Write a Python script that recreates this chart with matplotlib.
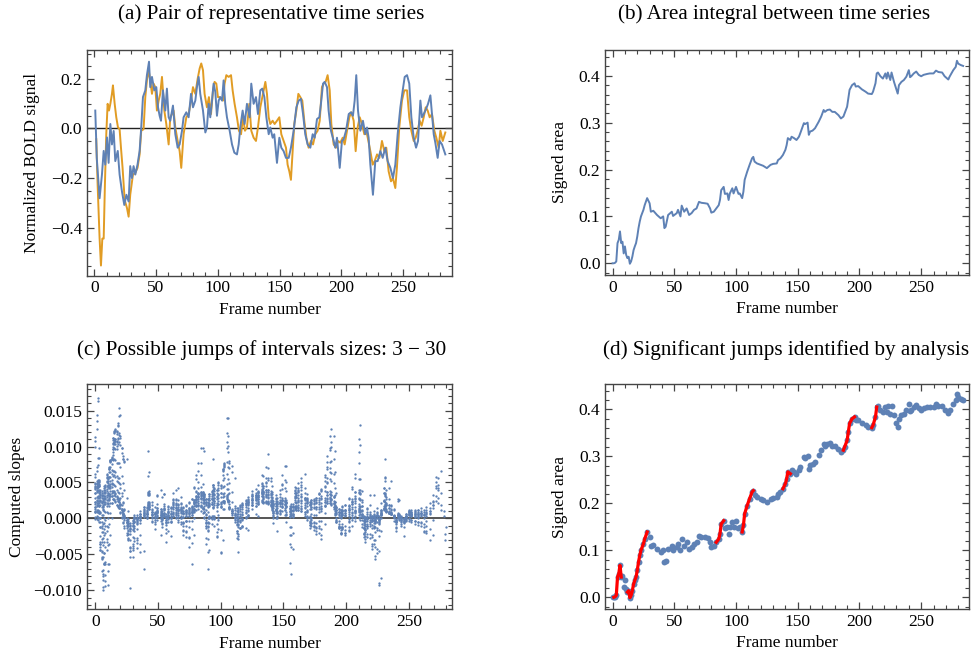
import numpy as np
import matplotlib
matplotlib.use("Agg")
import matplotlib.pyplot as plt
from matplotlib.ticker import MultipleLocator

plt.rcParams['font.family'] = ['Liberation Serif', 'DejaVu Serif']
plt.rcParams['font.size'] = 12.5

################# DATA #################
# (a) pair of representative time series
blue_f = [0.8, 2, 4.3, 6.2, 7.6, 8.9, 10.3, 11.6, 13, 14.3, 15.7, 17, 19, 20.5, 22.4, 24.3, 26, 27.8, 29.1, 30.5,
          31.8, 33.2, 35, 36.7, 38, 39.4, 41.3, 42.6, 44.3, 45.3, 46.7, 48.6, 50.2, 51.6, 52.9, 54, 55.6, 57.5, 58.8, 60.2,
          61.5, 63.7, 65.6, 67.5, 69.1, 71, 72.3, 74.5, 76.4, 78.3, 79.9, 81.8, 83.1, 84.5, 85.8, 88, 89.9, 91.2, 92.6, 93.9,
          95.3, 96.6, 98, 99.3, 100.7, 102, 103.4, 104.7, 106, 107.4, 109.6, 111.5, 113.4, 115.5, 116.9, 118.2, 120.1, 121.7, 123.6, 125.8,
          127.1, 129, 130.9, 132.5, 134.4, 136, 137.7, 139.3, 141.2, 142.5, 144.4, 145.7, 147.9, 149.8, 151.4, 153.3, 155.2, 157.4, 159.2, 161.4,
          163.6, 165.5, 167.3, 169, 170.8, 172.7, 174.9, 176.8, 178.4, 180.3, 182.2, 183.5, 185.2, 186.5, 188.4, 189.7, 191.6, 193.8, 195.1, 196.5,
          198.7, 200.5, 201.9, 203.8, 206, 207.8, 209.4, 210.8, 212.1, 213.5, 215.4, 217.5, 219.4, 220.8, 222.1, 223.5, 225.6, 227.5, 229.4, 231.6,
          233.5, 235.6, 237.5, 239.7, 241.8, 243.7, 245.6, 247.8, 249.7, 251.3, 253.2, 255, 256.7, 258.6, 260.5, 262.1, 264, 265.3, 266.7, 268.6,
          270.2, 272.1, 273.4, 274.8, 276.1, 278, 279.6, 281.5, 284.2]
blue_v = [0.072, -0.118, -0.28, -0.185, -0.09, -0.145, -0.036, -0.138, 0.018, -0.064, -0.01, -0.131, -0.09, -0.185, -0.253, -0.307, -0.266, -0.293, -0.151, -0.199,
          -0.151, -0.185, -0.145, -0.09, 0.004, 0.126, 0.153, 0.214, 0.268, 0.166, 0.207, 0.153, 0.166, 0.085, 0.051, 0.031, 0.153, 0.072, 0.16, 0.045,
          0.031, 0.092, -0.023, -0.077, -0.064, -0.009, 0.045, 0.065, 0.045, 0.139, 0.085, 0.112, 0.166, 0.207, 0.139, 0.072, -0.016, 0.004, 0.099, 0.045,
          0.112, 0.18, 0.146, 0.051, 0.112, 0.126, 0.112, 0.193, 0.099, 0.045, -0.009, -0.064, -0.097, -0.104, -0.064, 0.004, 0.072, 0.018, 0.099, 0.045,
          0.18, 0.099, 0.126, 0.058, 0.153, 0.16, 0.126, 0.045, -0.023, 0.004, -0.037, -0.023, -0.138, -0.037, -0.077, -0.091, -0.118, -0.118, -0.077, -0.009,
          0.085, 0.112, 0.119, 0.058, -0.023, -0.064, -0.077, -0.023, -0.037, 0.038, 0.045, 0.099, 0.18, 0.187, 0.166, 0.072, -0.009, -0.05, -0.077, -0.037,
          -0.158, -0.05, -0.043, -0.009, 0.058, 0.065, 0.051, 0.112, 0.214, 0.072, -0.009, 0.031, -0.023, 0.004, -0.037, -0.145, -0.266, -0.131, -0.131, -0.091,
          -0.118, -0.077, -0.131, -0.158, -0.199, -0.145, -0.023, 0.085, 0.153, 0.207, 0.214, 0.18, 0.045, -0.037, -0.077, -0.05, 0.112, 0.045, 0.058, 0.078,
          0.099, 0.133, 0.058, -0.023, -0.057, -0.118, -0.05, -0.064, -0.104]

orange_f = [1.6, 2.7, 4.3, 5.4, 6.5, 7.6, 8.6, 9.7, 10.8, 11.9, 13, 14.3, 15.1, 16.5, 17.8, 19.2, 20.5, 21.6, 22.9, 24.6,
            26.5, 27.8, 29.1, 31.3, 33.2, 35, 36.7, 38, 39.9, 41.3, 42.6, 44, 45.3, 46.7, 48, 49.4, 50.7, 52.1, 53.4, 54.8,
            56.7, 58.3, 60.2, 61.5, 62.9, 64.2, 65.6, 67.5, 69.1, 70.4, 72.3, 74.5, 76.4, 78.3, 79.9, 81.8, 83.7, 85.3, 86.6, 88,
            89.3, 91.2, 92.8, 94.5, 96.1, 97.4, 98.8, 100.1, 101.5, 102.8, 104.2, 105.5, 106.9, 108.8, 110.7, 112, 113.6, 115.5, 117.1, 118.8,
            120.4, 122, 123.6, 125.5, 127.1, 129, 130.9, 132.5, 134.4, 136.6, 138.5, 139.8, 141.2, 142.5, 144.4, 146, 147.9, 149.8, 151.4, 153.3,
            155.2, 156.5, 157.9, 159.2, 160.6, 161.9, 163.6, 165.2, 166.8, 168.4, 170, 171.7, 173.5, 175.4, 177.1, 178.9, 180.8, 182.5, 184.3, 185.7,
            187.3, 188.9, 190.6, 191.9, 193.8, 195.7, 197.3, 199.2, 201.1, 202.7, 204.6, 206.5, 208.1, 210, 211.6, 213.2, 214.9, 216.7, 218.6, 220.2,
            221.9, 223.5, 225.4, 227, 228.9, 230.8, 232.9, 234.8, 236.4, 238.3, 240.2, 241.8, 243.7, 245, 246.9, 249.1, 251, 253.2, 255, 256.7,
            258.6, 260.2, 261.8, 263.4, 265, 266.7, 268.3, 269.9, 271.5, 273.4, 275.3, 276.9, 278.8, 280.2, 282.1, 284.2]
orange_v = [-0.043, -0.226, -0.442, -0.55, -0.442, -0.442, -0.226, -0.023, 0.099, 0.072, 0.099, 0.139, 0.173, 0.099, 0.045, 0.004, -0.003, -0.077, -0.158, -0.287,
            -0.32, -0.354, -0.266, -0.185, -0.178, -0.158, -0.104, -0.009, -0.003, 0.126, 0.193, 0.234, 0.193, 0.139, 0.18, 0.166, 0.072, 0.112, 0.139, 0.207,
            0.072, 0.018, -0.064, 0.045, 0.058, 0.072, 0.004, -0.05, -0.091, -0.158, -0.023, 0.045, 0.058, 0.112, 0.166, 0.139, 0.2, 0.241, 0.261, 0.234,
            0.139, 0.085, 0.126, 0.058, 0.153, 0.187, 0.18, 0.126, 0.126, 0.119, 0.112, 0.18, 0.214, 0.207, 0.214, 0.153, 0.099, 0.045, -0.009, -0.023,
            0.045, -0.009, 0.004, 0.099, -0.009, -0.037, -0.05, 0.004, 0.085, 0.139, 0.187, 0.139, 0.045, 0.018, 0.031, 0.018, 0.031, 0.045, -0.023, -0.05,
            -0.077, -0.145, -0.172, -0.206, -0.091, 0.018, 0.072, 0.139, 0.126, 0.112, 0.031, -0.037, -0.077, -0.05, -0.064, -0.023, -0.009, 0.031, 0.166, 0.18,
            0.187, 0.214, 0.153, 0.018, -0.064, -0.077, -0.05, -0.057, -0.037, -0.064, -0.009, 0.045, 0.065, 0.031, -0.091, 0.004, 0.045, 0.018, -0.023, -0.009,
            -0.05, -0.091, -0.145, -0.131, -0.104, -0.118, -0.05, -0.091, -0.077, -0.172, -0.212, -0.199, -0.239, -0.158, 0.004, 0.112, 0.153, 0.153, 0.045, -0.009,
            -0.05, -0.037, -0.009, 0.031, 0.011, 0.045, 0.085, 0.072, 0.045, 0.058, -0.009, -0.037, -0.077, -0.009, -0.05, -0.016]

# (b)/(d) signed area between the two series
area_f = [0, 1, 2, 3, 4, 5, 6, 7, 8, 9, 10, 11, 12, 13, 14, 15, 16, 17, 18, 19,
          20, 21, 22, 23, 25, 26, 28, 30, 31, 33, 36, 39, 41, 42, 43, 45, 48, 49, 52, 53,
          55, 56, 58, 60, 62, 64, 66, 68, 70, 72, 75, 77, 79, 80, 82, 84, 86, 87, 88, 90,
          91, 93, 94, 95, 97, 98, 100, 102, 103, 105, 106, 107, 109, 111, 113, 114, 115, 117, 120, 122,
          125, 128, 130, 133, 134, 136, 138, 140, 141, 142, 144, 145, 147, 149, 151, 152, 155, 156, 158, 159,
          160, 162, 164, 167, 169, 171, 172, 174, 176, 178, 180, 183, 185, 187, 188, 190, 191, 192, 194, 196,
          197, 199, 202, 205, 207, 210, 211, 213, 214, 215, 217, 219, 221, 222, 223, 225, 226, 228, 230, 231,
          232, 234, 236, 238, 240, 241, 242, 244, 246, 248, 250, 252, 255, 257, 260, 262, 264, 267, 269, 272,
          273, 276, 278, 279, 280, 282, 284]
area_v = [0.000, 0.000, 0.001, 0.004, 0.043, 0.050, 0.068, 0.043, 0.046, 0.021, 0.036, 0.018, 0.011, 0.014, -0.001, 0.004, 0.014, 0.028, 0.036, 0.043,
          0.057, 0.075, 0.089, 0.100, 0.114, 0.124, 0.139, 0.128, 0.110, 0.112, 0.103, 0.096, 0.100, 0.075, 0.078, 0.103, 0.110, 0.101, 0.107, 0.114,
          0.100, 0.123, 0.110, 0.117, 0.103, 0.107, 0.114, 0.117, 0.131, 0.129, 0.128, 0.127, 0.117, 0.108, 0.110, 0.117, 0.124, 0.135, 0.156, 0.163,
          0.148, 0.149, 0.135, 0.149, 0.160, 0.149, 0.163, 0.148, 0.149, 0.139, 0.153, 0.178, 0.195, 0.210, 0.224, 0.227, 0.217, 0.213, 0.210, 0.208,
          0.203, 0.210, 0.212, 0.213, 0.220, 0.224, 0.231, 0.242, 0.252, 0.267, 0.263, 0.270, 0.267, 0.263, 0.270, 0.277, 0.299, 0.297, 0.300, 0.274,
          0.281, 0.283, 0.288, 0.302, 0.313, 0.327, 0.323, 0.327, 0.328, 0.323, 0.323, 0.316, 0.309, 0.313, 0.320, 0.334, 0.352, 0.370, 0.380, 0.384,
          0.377, 0.378, 0.371, 0.366, 0.362, 0.361, 0.366, 0.384, 0.405, 0.407, 0.399, 0.394, 0.405, 0.394, 0.407, 0.391, 0.407, 0.387, 0.370, 0.362,
          0.380, 0.387, 0.391, 0.398, 0.412, 0.397, 0.399, 0.405, 0.409, 0.402, 0.399, 0.402, 0.404, 0.405, 0.405, 0.411, 0.408, 0.407, 0.399, 0.392,
          0.398, 0.412, 0.419, 0.432, 0.426, 0.423, 0.421]

# (d) frame intervals flagged as significant jumps
jump_start = [1, 12, 84, 105, 138, 186, 208]
jump_end = [7, 28, 90, 114, 144, 196, 214]

# (c) interval sizes tested
min_size = 3
max_size = 30

titles = ['(a) Pair of representative time series',
          '(b) Area integral between time series',
          '(c) Possible jumps of intervals sizes: 3 \u2212 30',
          '(d) Significant jumps identified by analysis']

################# STYLE #################
BLUE = '#5E81B5'
ORANGE = '#E19C24'
FRAME = '#454545'
W, H = 971, 655
TITLE_SIZE = 15.2

fig = plt.figure(figsize=(W / 100, H / 100), dpi=100)


def make_axes(left, right, top, bottom):
    ax = fig.add_axes([left / W, 1 - bottom / H, (right - left) / W, (bottom - top) / H])
    for sp in ax.spines.values():
        sp.set_color(FRAME)
        sp.set_linewidth(1.0)
    ax.tick_params(which='both', direction='in', top=True, right=True, colors=FRAME,
                   labelcolor='black', labelsize=12.5)
    ax.tick_params(which='major', length=5, width=0.9)
    ax.tick_params(which='minor', length=2.8, width=0.8)
    ax.xaxis.set_major_locator(MultipleLocator(50))
    ax.xaxis.set_minor_locator(MultipleLocator(10))
    return ax


def minus_fmt(fmt):
    return lambda v, p: (fmt % v).replace('-', '\u2212')


################# (a) #################
ax = make_axes(87, 452, 50, 275.5)
ax.axhline(0, color='#222222', lw=1.0, zorder=1)
ax.plot(blue_f, blue_v, color=BLUE, lw=1.4, zorder=3)
ax.plot(orange_f, orange_v, color=ORANGE, lw=1.4, zorder=2)
ax.set_xlim(-5.9, 289.6)
ax.set_ylim(-0.59, 0.315)
ax.yaxis.set_major_locator(MultipleLocator(0.2))
ax.yaxis.set_minor_locator(MultipleLocator(0.05))
ax.yaxis.set_major_formatter(minus_fmt('%.1f'))
ax.set_xlabel('Frame number', labelpad=4)
ax.set_ylabel('Normalized BOLD signal', labelpad=8)
fig.text(271 / W, 1 - 14 / H, titles[0], ha='center', va='center', fontsize=TITLE_SIZE)

################# (b) #################
ax = make_axes(605.3, 969.3, 50, 275)
ax.plot(area_f, area_v, color=BLUE, lw=1.4)
ax.set_xlim(-5.9, 289)
ax.set_ylim(-0.025, 0.455)
ax.yaxis.set_major_locator(MultipleLocator(0.1))
ax.yaxis.set_minor_locator(MultipleLocator(0.02))
ax.yaxis.set_major_formatter(minus_fmt('%.1f'))
ax.set_xlabel('Frame number', labelpad=4)
ax.set_ylabel('Signed area', labelpad=8)
fig.text(774 / W, 1 - 14 / H, titles[1], ha='center', va='center', fontsize=TITLE_SIZE)

################# (c) #################
af = np.array(area_f, dtype=float)
av = np.array(area_v)
cx, cy = [], []
for i in range(len(af)):
    for j in range(i + 1, len(af)):
        d = af[j] - af[i]
        if min_size <= d <= max_size:
            cx.append(af[i])
            cy.append((av[j] - av[i]) / d)

ax = make_axes(87, 452, 384, 609.3)
ax.axhline(0, color='#555555', lw=1.4, zorder=1)
ax.scatter(cx, cy, s=2.8, color=BLUE, linewidths=0, zorder=2)
ax.set_xlim(-6.6, 284.4)
ax.set_ylim(-0.01264, 0.0187)
ax.yaxis.set_major_locator(MultipleLocator(0.005))
ax.yaxis.set_minor_locator(MultipleLocator(0.001))
ax.yaxis.set_major_formatter(minus_fmt('%.3f'))
ax.set_xlabel('Frame number', labelpad=4)
ax.set_ylabel('Computed slopes', labelpad=6)
fig.text(262 / W, 1 - 350 / H, titles[2], ha='center', va='center', fontsize=TITLE_SIZE)

################# (d) #################
ax = make_axes(605.3, 969.3, 384, 609)
ax.scatter(area_f, area_v, s=18, color=BLUE, linewidths=0, zorder=2)
for a, b in zip(jump_start, jump_end):
    sel = (af >= a) & (af <= b)
    ax.plot(af[sel], av[sel], color='red', lw=2.3, zorder=3)
ax.set_xlim(-5.9, 289)
ax.set_ylim(-0.025, 0.454)
ax.yaxis.set_major_locator(MultipleLocator(0.1))
ax.yaxis.set_minor_locator(MultipleLocator(0.02))
ax.yaxis.set_major_formatter(minus_fmt('%.1f'))
ax.set_xlabel('Frame number', labelpad=4)
ax.set_ylabel('Signed area', labelpad=8)
fig.text(786 / W, 1 - 350 / H, titles[3], ha='center', va='center', fontsize=TITLE_SIZE)

fig.savefig('out.png', dpi=100)
